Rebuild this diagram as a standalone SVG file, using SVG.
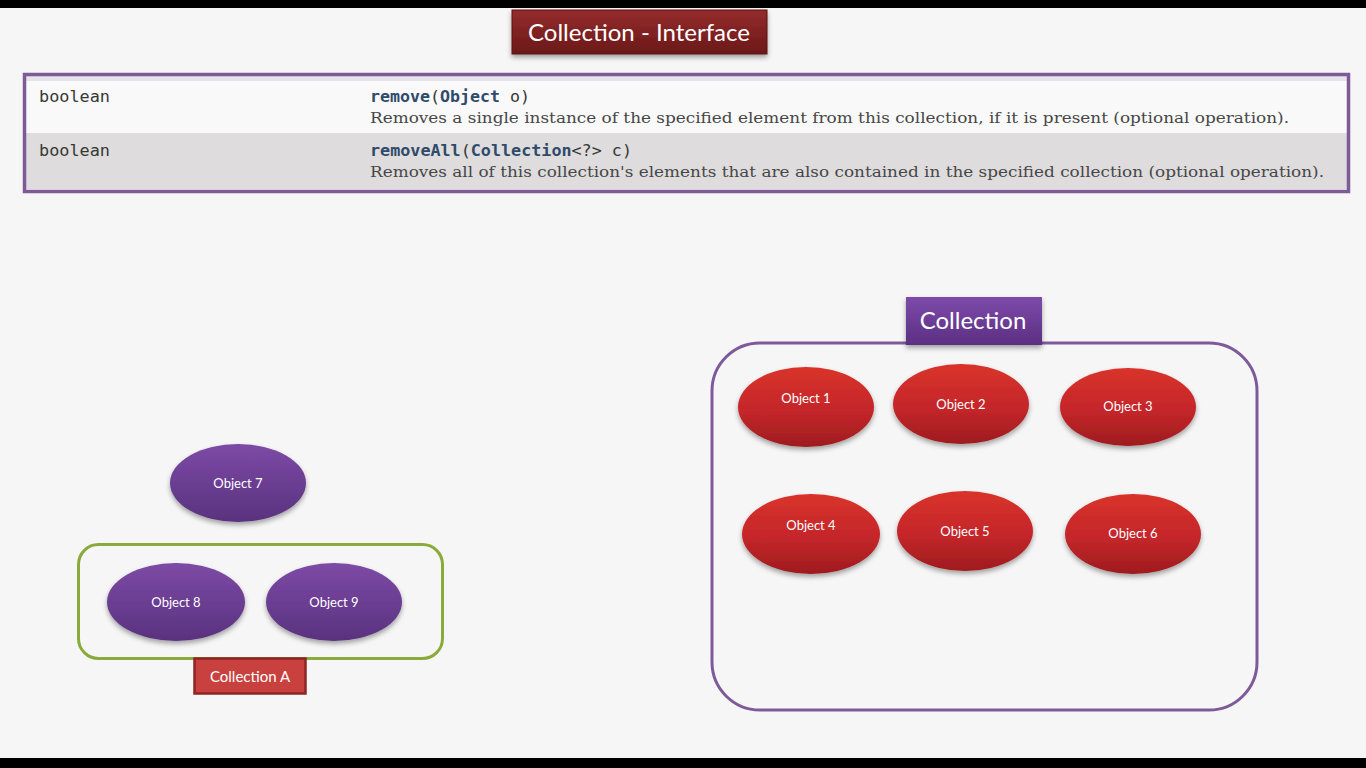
<svg xmlns="http://www.w3.org/2000/svg" width="1366" height="768" viewBox="0 0 1366 768">
<style>
.mono{font-family:"DejaVu Sans Mono","Liberation Mono",monospace;font-size:15px;fill:#353833}
.bold{font-weight:bold;fill:#2f4a6a}
.desc{font-family:"DejaVu Serif","Liberation Serif",serif;font-size:14px;fill:#474747}
.obj{font-family:Lato,"Open Sans","Liberation Sans",sans-serif;font-size:13px;fill:#ffffff;text-anchor:middle}
.lbl{font-family:Lato,"Open Sans","Liberation Sans",sans-serif;fill:#ffffff;text-anchor:middle}
</style>
<defs>
<linearGradient id="gRed" x1="0" y1="0" x2="0" y2="1">
<stop offset="0" stop-color="#d9332c"/><stop offset="0.55" stop-color="#c4262a"/><stop offset="1" stop-color="#9e1c1e"/>
</linearGradient>
<linearGradient id="gPur" x1="0" y1="0" x2="0" y2="1">
<stop offset="0" stop-color="#7d4aa6"/><stop offset="1" stop-color="#59327e"/>
</linearGradient>
<linearGradient id="gTitle" x1="0" y1="0" x2="0" y2="1">
<stop offset="0" stop-color="#952c2c"/><stop offset="1" stop-color="#6b1818"/>
</linearGradient>
<linearGradient id="gCol" x1="0" y1="0" x2="0" y2="1">
<stop offset="0" stop-color="#7d4bab"/><stop offset="1" stop-color="#5b2f82"/>
</linearGradient>
<filter id="sh" x="-20%" y="-20%" width="140%" height="150%">
<feDropShadow dx="0" dy="3" stdDeviation="2.5" flood-color="#000" flood-opacity="0.35"/>
</filter>
</defs>
<rect x="0" y="0" width="1366" height="768" fill="#f6f6f6"/>
<rect x="0" y="0" width="1366" height="8" fill="#000"/>
<rect x="0" y="758" width="1366" height="10" fill="#000"/>

<g id="title">
<rect x="512" y="10" width="255" height="44" fill="url(#gTitle)" stroke="#5a1010" stroke-width="1" filter="url(#sh)"/>
<text class="lbl" x="639" y="41" font-size="24" textLength="222" lengthAdjust="spacingAndGlyphs">Collection - Interface</text>
</g>

<g id="table">
<rect x="24.5" y="74.5" width="1324" height="117" fill="#f9f9f9"/>
<rect x="25" y="76" width="1323" height="5" fill="#e6e4ea"/>
<rect x="25" y="133" width="1323" height="56" fill="#dedcdc"/>
<rect x="24.5" y="74.5" width="1324" height="117" fill="none" stroke="#7e5a96" stroke-width="3.5"/>
<text class="mono" x="39" y="102" textLength="71" lengthAdjust="spacingAndGlyphs">boolean</text>
<text class="mono" x="370" y="102" textLength="160" lengthAdjust="spacingAndGlyphs"><tspan class="bold">remove</tspan>(<tspan class="bold">Object</tspan> o)</text>
<text class="desc" x="370" y="123" textLength="919" lengthAdjust="spacingAndGlyphs">Removes a single instance of the specified element from this collection, if it is present (optional operation).</text>
<text class="mono" x="39" y="156" textLength="71" lengthAdjust="spacingAndGlyphs">boolean</text>
<text class="mono" x="370" y="156" textLength="262" lengthAdjust="spacingAndGlyphs"><tspan class="bold">removeAll</tspan>(<tspan class="bold">Collection</tspan>&lt;?&gt; c)</text>
<text class="desc" x="370" y="177" textLength="954" lengthAdjust="spacingAndGlyphs">Removes all of this collection's elements that are also contained in the specified collection (optional operation).</text>
</g>

<g id="collection">
<rect x="712" y="343" width="545" height="367" rx="48" ry="48" fill="none" stroke="#7e5a9a" stroke-width="3"/>
<rect x="906" y="297" width="136" height="48" fill="url(#gCol)" filter="url(#sh)"/>
<text class="lbl" x="973" y="329" font-size="24">Collection</text>
</g>

<g id="obj1"><ellipse cx="806" cy="407" rx="68" ry="40" fill="url(#gRed)" filter="url(#sh)"/><text class="obj" x="806" y="403">Object 1</text></g>
<g id="obj2"><ellipse cx="961" cy="404" rx="68" ry="40" fill="url(#gRed)" filter="url(#sh)"/><text class="obj" x="961" y="409">Object 2</text></g>
<g id="obj3"><ellipse cx="1128" cy="407" rx="68" ry="39" fill="url(#gRed)" filter="url(#sh)"/><text class="obj" x="1128" y="411">Object 3</text></g>
<g id="obj4"><ellipse cx="811" cy="534" rx="69" ry="40" fill="url(#gRed)" filter="url(#sh)"/><text class="obj" x="811" y="530">Object 4</text></g>
<g id="obj5"><ellipse cx="965" cy="531" rx="68" ry="40" fill="url(#gRed)" filter="url(#sh)"/><text class="obj" x="965" y="536">Object 5</text></g>
<g id="obj6"><ellipse cx="1133" cy="534" rx="68" ry="40" fill="url(#gRed)" filter="url(#sh)"/><text class="obj" x="1133" y="538">Object 6</text></g>

<g id="obj7"><ellipse cx="238" cy="483" rx="68" ry="39" fill="url(#gPur)" filter="url(#sh)"/><text class="obj" x="238" y="488">Object  7</text></g>

<g id="collectionA">
<rect x="78.5" y="544.5" width="364" height="114" rx="20" ry="20" fill="none" stroke="#8aab3c" stroke-width="3"/>
<rect x="194.5" y="658.5" width="111" height="35" fill="#c9413e" stroke="#8f2424" stroke-width="2.5"/>
<text class="lbl" x="250" y="682" font-size="15">Collection A</text>
</g>
<g id="obj8"><ellipse cx="176" cy="602" rx="69" ry="39" fill="url(#gPur)" filter="url(#sh)"/><text class="obj" x="176" y="607">Object  8</text></g>
<g id="obj9"><ellipse cx="334" cy="602" rx="68" ry="39" fill="url(#gPur)" filter="url(#sh)"/><text class="obj" x="334" y="607">Object  9</text></g>

<g id="connectors"></g>
</svg>
